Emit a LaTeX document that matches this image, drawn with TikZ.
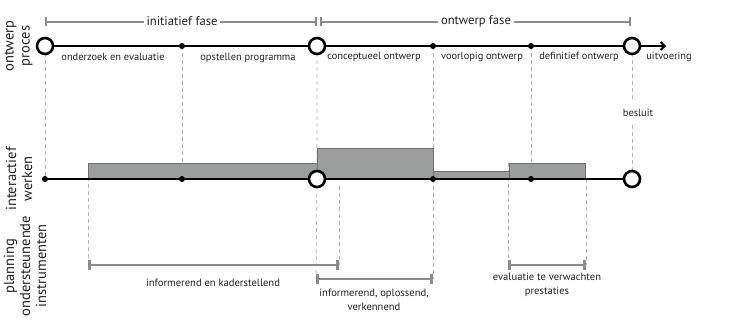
\documentclass[tikz,border=0pt]{standalone}
\usepackage{fontspec}
\setmainfont{PT Sans}
\usetikzlibrary{arrows.meta}
\definecolor{barfill}{HTML}{9C9E9D}
\definecolor{barline}{HTML}{6E706F}
\definecolor{spanline}{HTML}{8C8C8C}
\definecolor{guide}{HTML}{B4B4B4}
\definecolor{txt}{HTML}{222222}
\tikzset{
  milestone/.style={circle,draw=black,fill=white,line width=2.6pt,minimum size=16pt,inner sep=0pt},
  stepdot/.style={circle,fill=black,minimum size=6pt,inner sep=0pt},
  mainline/.style={line width=2pt,black},
  guideline/.style={guide,dashed,dash pattern=on 4pt off 3pt,line width=0.7pt},
  phasebar/.style={spanline,line width=1.6pt},
  toolbar/.style={spanline,line width=2.6pt},
  effort/.style={fill=barfill,draw=barline,line width=0.8pt},
  steplabel/.style={font=\fontsize{10.4}{12}\selectfont,text=txt,inner sep=1pt},
  phaselabel/.style={font=\fontsize{12.6}{14}\selectfont,text=txt,fill=white,inner sep=3pt},
  rowlabel/.style={font=\fontsize{14.5}{16}\selectfont,text=txt,rotate=90,align=center},
  toollabel/.style={font=\fontsize{10.6}{14}\selectfont,text=txt,align=center,inner sep=1pt},
}
\begin{document}
\begin{tikzpicture}[x=1pt,y=-1pt]
\useasboundingbox (0,0) rectangle (751,328);

% row labels
\node[rowlabel] (rowA) at (18.5,46) {ontwerp\\proces};
\node[rowlabel] (rowB) at (19,179) {interactief\\werken};
\node[rowlabel] (rowC) at (25,266) {planning\\ondersteunende\\instrumenten};

% guide coordinates
\coordinate (g88a) at (88,163);   \coordinate (g88b) at (88,265);
\coordinate (g316b) at (316,279);
\coordinate (g339a) at (339,186); \coordinate (g339b) at (339,265);
\coordinate (g433b) at (433,279);
\coordinate (g508b) at (508,265);
\coordinate (g586a) at (586,179); \coordinate (g586b) at (586,265);
\coordinate (g632a) at (632,100); \coordinate (g632b) at (632,125);

% design process milestones and steps
\coordinate (t1) at (45,46);  \coordinate (t2) at (182,46); \coordinate (t3) at (317,46);
\coordinate (t4) at (433,46); \coordinate (t5) at (531,46); \coordinate (t6) at (632,46);
\coordinate (tend) at (666,46);
% interactive work line
\coordinate (b1) at (45,179);  \coordinate (b2) at (182,179); \coordinate (b3) at (317,179);
\coordinate (b4) at (433,179); \coordinate (b5) at (531,179); \coordinate (b6) at (632,179);

% dashed guides (behind everything)
\draw[guideline] (t1) -- (b1);
\draw[guideline] (t2) -- (b2);
\draw[guideline] (t3) -- (b3) -- (g316b);
\draw[guideline] (t4) -- (b4) -- (g433b);
\draw[guideline] (t5) -- (b5);
\draw[guideline] (t6) -- (g632a);
\draw[guideline] (g632b) -- (b6);
\draw[guideline] (g88a) -- (g88b);
\draw[guideline] (g339a) -- (g339b);
\draw[guideline] (508,163) -- (g508b);
\draw[guideline] (g586a) -- (g586b);

% effort blocks
\draw[effort] (88,179) rectangle (317,163);
\draw[effort] (317,179) rectangle (433,148);
\draw[effort] (433,179) rectangle (509,171);
\draw[effort] (509,179) rectangle (585,163);

% phase spans
\coordinate (pA1) at (45,22); \coordinate (pA2) at (317,22);
\coordinate (pB1) at (320,22); \coordinate (pB2) at (631,22);
\draw[phasebar,{Bar[width=9pt]}-{Bar[width=9pt]}] (pA1) -- (pA2);
\draw[phasebar,{Bar[width=9pt]}-{Bar[width=9pt]}] (pB1) -- (pB2);
\node[phaselabel] (phA) at (182,21) {initiatief fase};
\node[phaselabel] (phB) at (476,21) {ontwerp fase};

% design process line
\draw[mainline,-{Straight Barb[length=4pt,width=8pt]}] (t1) -- (tend);
\node[milestone] (m1) at (t1) {};
\node[stepdot]   (s1) at (t2) {};
\node[milestone] (m2) at (t3) {};
\node[stepdot]   (s2) at (t4) {};
\node[stepdot]   (s3) at (t5) {};
\node[milestone] (m3) at (t6) {};

\node[steplabel] (l1) at (113,57) {onderzoek en evaluatie};
\node[steplabel] (l2) at (248,58) {opstellen programma};
\node[steplabel] (l3) at (374,57) {conceptueel ontwerp};
\node[steplabel] (l4) at (482,57) {voorlopig ontwerp};
\node[steplabel] (l5) at (579,57) {definitief ontwerp};
\node[steplabel] (l6) at (669,57) {uitvoering};
\node[steplabel] (bes) at (638,113) {besluit};

% interactive work line
\draw[mainline] (b1) -- (b6);
\node[stepdot]   (i1) at (b1) {};
\node[stepdot]   (i2) at (b2) {};
\node[milestone] (i3) at (b3) {};
\node[stepdot]   (i4) at (b4) {};
\node[stepdot]   (i5) at (b5) {};
\node[milestone] (i6) at (b6) {};

% supporting planning instruments
\draw[toolbar,{Bar[width=10pt]}-{Bar[width=10pt]}] (g88b) -- (g339b);
\draw[toolbar,{Bar[width=10pt]}-{Bar[width=10pt]}] (g316b) -- (g433b);
\draw[toolbar,{Bar[width=10pt]}-{Bar[width=10pt]}] (g508b) -- (g586b);
\node[toollabel] (k1) at (213,283) {informerend en kaderstellend};
\node[toollabel] (k2) at (374,300) {informerend, oplossend,\\verkennend};
\node[toollabel] (k3) at (547,285) {evaluatie te verwachten\\prestaties};
\end{tikzpicture}
\end{document}
